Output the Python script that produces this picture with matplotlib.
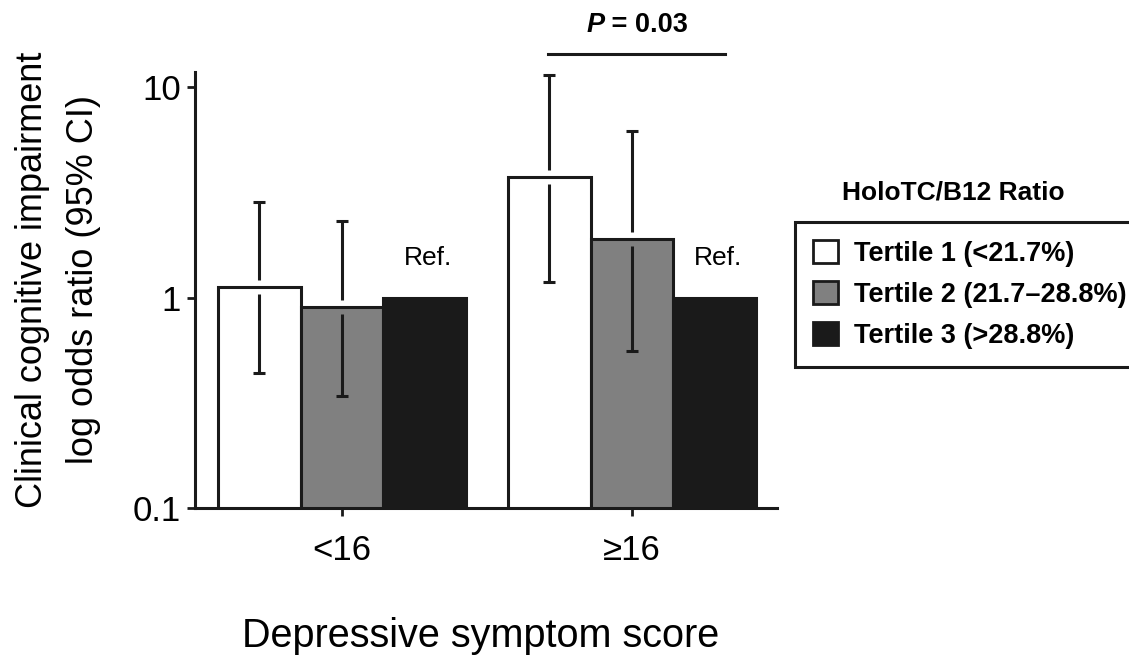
import matplotlib
matplotlib.use("Agg")
import matplotlib.pyplot as plt
import numpy as np
from matplotlib.patches import Patch
from matplotlib.ticker import FixedLocator, NullLocator

plt.rcParams['font.family'] = ['Liberation Sans', 'DejaVu Sans']

# Data
groups = ['<16', '≥16']
tertiles = ['Tertile 1 (<21.7%)', 'Tertile 2 (21.7–28.8%)', 'Tertile 3 (>28.8%)']
colors = ['white', '#808080', '#1a1a1a']

odds = [[1.12, 3.75],   # tertile 1
        [0.90, 1.90],   # tertile 2
        [1.00, 1.00]]   # tertile 3 (reference)
ci_low = [[0.44, 1.18],
          [0.34, 0.56],
          [None, None]]
ci_high = [[2.83, 11.4],
           [2.30, 6.2],
           [None, None]]

ink = '#1a1a1a'
fig = plt.figure(figsize=(11.29, 6.6), dpi=100)
ax = fig.add_axes([0.1727, 0.2303, 0.5155, 0.6606])

x = np.arange(len(groups))
width = 0.286
offsets = [-width, 0, width]
gap = 1.08  # error line is broken where it crosses the bar top

for i in range(3):
    xs = x + offsets[i]
    ax.bar(xs, odds[i], width, color=colors[i], edgecolor=ink, linewidth=2.2, zorder=2)
    for j in range(len(groups)):
        lo, hi = ci_low[i][j], ci_high[i][j]
        if lo is None:
            continue
        m = odds[i][j]
        ax.vlines(xs[j], m * gap, hi, color=ink, lw=2.2, zorder=3)
        ax.vlines(xs[j], lo, m / gap, color=ink, lw=2.2, zorder=3)
        ax.hlines([lo, hi], xs[j] - 0.022, xs[j] + 0.022, color=ink, lw=2.2, zorder=3)

# Ref. labels above the reference bars
for j in range(len(groups)):
    ax.text(x[j] + offsets[2] + 0.01, odds[2][j] * 1.35, 'Ref.', ha='center', va='bottom',
            fontsize=19)

ax.set_yscale('log')
ax.set_ylim(0.1, 11.8)
ax.set_xlim(-0.507, 1.5)
ax.yaxis.set_major_locator(FixedLocator([0.1, 1, 10]))
ax.yaxis.set_minor_locator(NullLocator())
ax.set_yticklabels(['0.1', '1', '10'])
ax.set_xticks(x)
ax.set_xticklabels(groups)
ax.tick_params(axis='both', length=6, width=2, color=ink, labelsize=25)
ax.tick_params(axis='x', pad=13)
ax.tick_params(axis='y', pad=4)

for side in ['top', 'right']:
    ax.spines[side].set_visible(False)
for side in ['left', 'bottom']:
    ax.spines[side].set_linewidth(2.2)
    ax.spines[side].set_color(ink)

ax.set_ylabel('Clinical cognitive impairment\nlog odds ratio (95% CI)', fontsize=26,
              linespacing=1.58)
ax.yaxis.set_label_coords(-0.162, 0.523)
ax.set_xlabel('Depressive symptom score', fontsize=28.5)
ax.xaxis.set_label_coords(0.49, -0.25)

# significance bracket
trans = ax.get_xaxis_transform()
ax.plot([0.71, 1.32], [1.041, 1.041], color=ink, lw=2.2, transform=trans, clip_on=False)
ax.text(0.905, 1.108, 'P', fontsize=19.5, fontweight='bold', fontstyle='italic',
        ha='right', va='center', transform=trans)
ax.text(0.905, 1.108, ' = 0.03', fontsize=19.5, fontweight='bold',
        ha='left', va='center', transform=trans)

# legend
handles = [Patch(facecolor=c, edgecolor=ink, linewidth=2) for c in colors]
leg = fig.legend(handles, tertiles, loc='upper left', bbox_to_anchor=(795 / 1129, 1 - 222 / 660),
                 prop={'weight': 'bold', 'size': 19.5}, frameon=True, fancybox=False,
                 framealpha=1, borderaxespad=0,
                 handlelength=0.9, handleheight=0.9, handletextpad=0.6, labelspacing=0.53,
                 borderpad=0.68)
leg.get_frame().set_edgecolor(ink)
leg.get_frame().set_linewidth(2.2)
fig.text(953 / 1129, 1 - 192 / 660, 'HoloTC/B12 Ratio', fontsize=19, fontweight='bold',
         ha='center', va='center')

fig.savefig('out.png', dpi=100)
